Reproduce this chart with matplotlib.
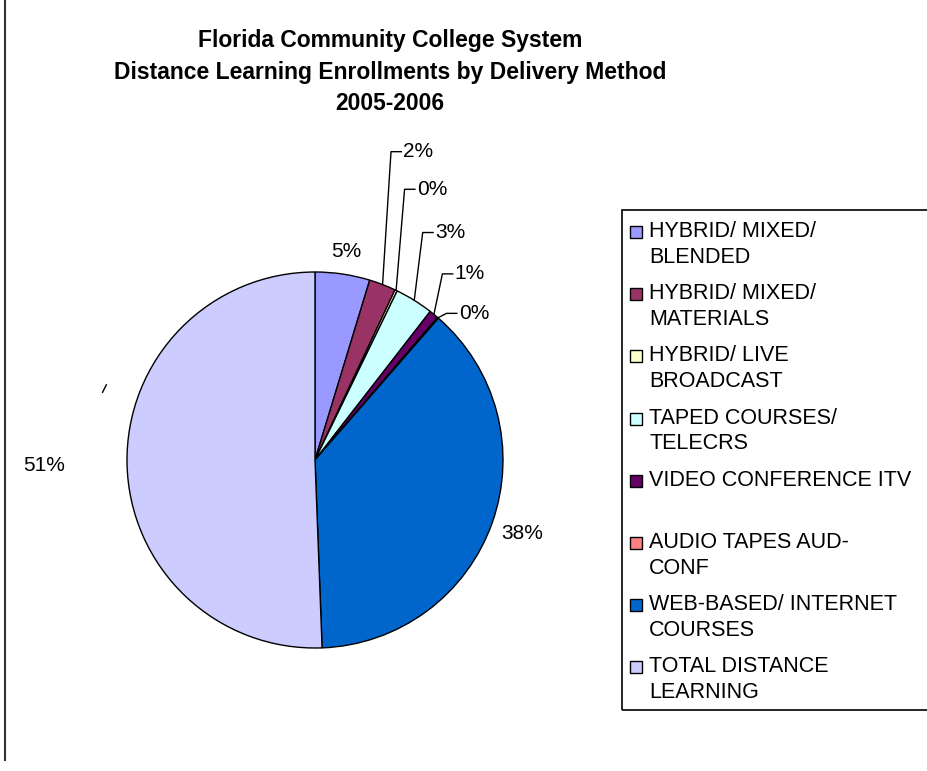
import numpy as np
import matplotlib.pyplot as plt
from matplotlib.patches import Rectangle
from matplotlib.lines import Line2D

# Data (percent share of enrollments, clockwise from 12 o'clock)
categories = ["HYBRID/ MIXED/\nBLENDED", "HYBRID/ MIXED/\nMATERIALS", "HYBRID/ LIVE\nBROADCAST",
              "TAPED COURSES/\nTELECRS", "VIDEO CONFERENCE ITV", "AUDIO TAPES AUD-\nCONF",
              "WEB-BASED/ INTERNET\nCOURSES", "TOTAL DISTANCE\nLEARNING"]
shares = [4.7, 2.3, 0.2, 3.3, 0.8, 0.1, 38.0, 50.6]
colors = ["#9999FF", "#993366", "#FFFFCC", "#CCFFFF", "#660066", "#FF8080", "#0066CC", "#CCCCFF"]

plt.rcParams['font.family'] = ['Liberation Sans', 'DejaVu Sans']

W, H = 927, 771
fig = plt.figure(figsize=(W / 100, H / 100), dpi=100)

# pie axes laid out in pixels: center (315, 460), radius 188
R = 188.0
cx, cy = 315, 460
ax_l, ax_r, ax_t, ax_b = 0, 620, 130, 771
ax = fig.add_axes([ax_l / W, 1 - ax_b / H, (ax_r - ax_l) / W, (ax_b - ax_t) / H])

wedges, _ = ax.pie(shares, colors=colors, startangle=90, counterclock=False,
                   wedgeprops=dict(edgecolor='black', linewidth=1.0))
ax.set_xlim((ax_l - cx) / R, (ax_r - cx) / R)
ax.set_ylim(-(ax_b - cy) / R, (cy - ax_t) / R)
ax.set_aspect('equal', adjustable='datalim')
ax.axis('off')

pct = np.array(shares) / sum(shares) * 100
labels = ["%d%%" % int(np.floor(p + 0.5)) for p in pct]

# small slices get a leader line rising to a stacked height
leader_tops = {1: 1.64, 2: 1.44, 3: 1.21, 4: 0.99, 5: 0.78}
plain_dist = {0: 1.12, 6: 1.17, 7: 1.44}

for i, w in enumerate(wedges):
    ang = np.deg2rad((w.theta1 + w.theta2) / 2)
    ex, ey = np.cos(ang), np.sin(ang)
    if i in leader_tops:
        ty = leader_tops[i]
        tx = ex + 0.045
        ax.plot([ex, tx, tx + 0.055], [ey, ty, ty], color='black', lw=1.0)
        ax.text(tx + 0.065, ty, labels[i], ha='left', va='center', fontsize=15)
    else:
        d = plain_dist[i]
        ax.text(d * ex, d * ey, labels[i], ha='center', va='center', fontsize=15)

# small leftover leader stroke on the left side
ax.plot([-1.13, -1.11], [0.36, 0.40], color='black', lw=1.0)

# title
fig.text(390 / W, 1 - 72 / H,
         "Florida Community College System\nDistance Learning Enrollments by Delivery Method\n2005-2006",
         ha='center', va='center', fontsize=16.5, fontweight='bold', linespacing=1.5)

# legend drawn by hand to match the boxed layout
fig.patches.append(Rectangle((622 / W, 1 - 710 / H), (W + 5 - 622) / W, 500 / H,
                             transform=fig.transFigure, fill=False, edgecolor='black', lw=1.2))
first_line_y = 232
for i, (lab, c) in enumerate(zip(categories, colors)):
    y = first_line_y + i * 62.2
    fig.patches.append(Rectangle((630 / W, 1 - (y + 6) / H), 12 / W, 12 / H,
                                 transform=fig.transFigure, facecolor=c,
                                 edgecolor='black', lw=1.0))
    fig.text(649 / W, 1 - (y - 11) / H, lab, ha='left', va='top', fontsize=15.5,
             linespacing=1.3)

# page edge line at left
fig.lines.append(Line2D([5 / W, 5 / W], [1 - 760 / H, 1], transform=fig.transFigure,
                        color='#333333', lw=1.5))

fig.savefig("out.png", dpi=100, facecolor='white')
